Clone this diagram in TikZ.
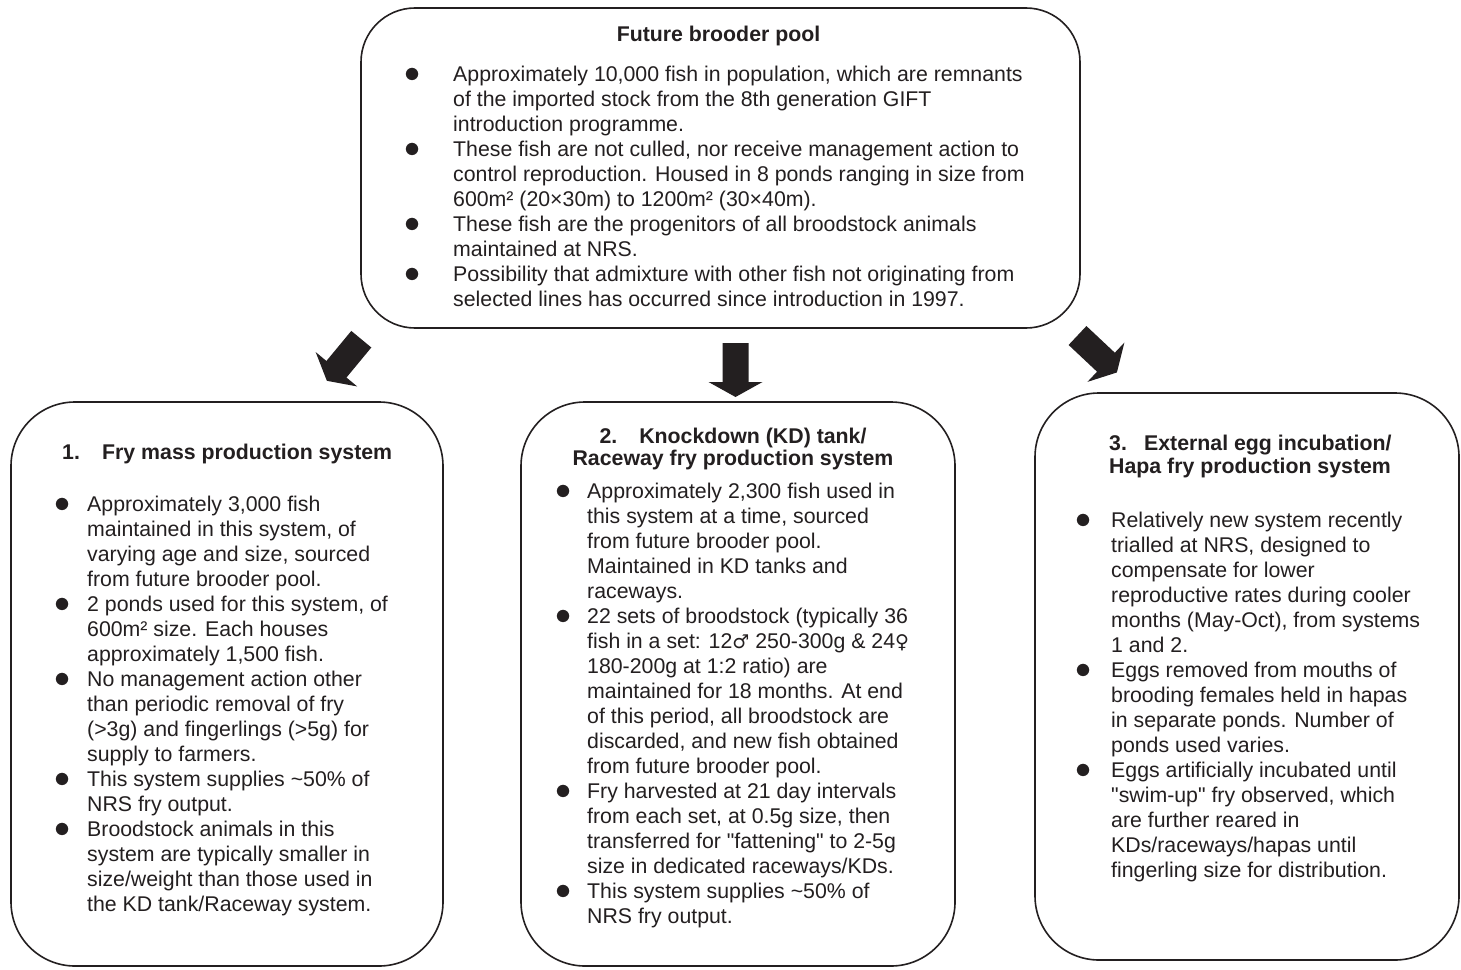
\documentclass[tikz,border=0pt]{standalone}
\usepackage{fontspec}
\setmainfont{Liberation Sans}
\newfontfamily\symfont{DejaVu Sans}
\usepackage{array}
\definecolor{ink}{HTML}{231F20}
\newcommand\mybul{\makebox[0pt]{\raisebox{-1.6pt}{\scalebox{1.55}{$\bullet$}}}}
\newcommand\qq{\textquotedbl}
\newcommand\male{{\symfont\fontsize{19}{25}\selectfont ♂}}
\newcommand\female{{\symfont\fontsize{19}{25}\selectfont ♀}}
\begin{document}
\begin{tikzpicture}[x=1pt,y=-1pt,
  box/.style={draw=ink, line width=1.6pt, inner sep=0pt},
  body/.style={anchor=base west, inner sep=0pt, text=ink, font=\fontsize{21.3}{25}\selectfont},
  ttl/.style={inner sep=0pt, text=ink, font=\fontsize{21.3}{22.4}\selectfont\bfseries},
  blockarrow/.pic={\fill[ink] (0,-13) -- (39,-13) -- (39,-27) -- (54,0) -- (39,27) -- (39,13) -- (0,13) -- cycle;}
]
\fill[white] (0,0) rectangle (1461,969);
\useasboundingbox (0,0) rectangle (1461,969);

% boxes
\node[box, rounded corners=54pt, minimum width=719pt, minimum height=320pt] (pool) at (720.5,168) {};
\node[box, rounded corners=64pt, minimum width=432pt, minimum height=564pt] (fry) at (227,684) {};
\node[box, rounded corners=64pt, minimum width=434pt, minimum height=564pt] (kd) at (738,684) {};
\node[box, rounded corners=64pt, minimum width=424pt, minimum height=567pt] (hapa) at (1247,676.5) {};

% arrows
\pic[rotate=-129.6] (arrL) at (361.3,339.2) {blockarrow};
\pic[rotate=-90] (arrM) at (735.5,343) {blockarrow};
\pic[rotate=-43.2] (arrR) at (1077.5,335.5) {blockarrow};

% top box
\node[ttl, anchor=base] (pooltitle) at (718.5,41.7) {Future brooder pool};
\node[body] (poolbody) at (412,81) {\begin{tabular}[t]{@{}p{41pt}@{}l@{}}
\mybul & Approximately 10,000 fish in population, which are remnants\\
 & of the imported stock from the 8th generation GIFT\\
 & introduction programme.\\
\mybul & These fish are not culled, nor receive management action to\\
 & control reproduction. Housed in 8 ponds ranging in size from\\
 & 600m² (20×30m) to 1200m² (30×40m).\\
\mybul & These fish are the progenitors of all broodstock animals\\
 & maintained at NRS.\\
\mybul & Possibility that admixture with other fish not originating from\\
 & selected lines has occurred since introduction in 1997.
\end{tabular}};

% left box
\node[ttl, anchor=base west] (frytitle) at (62,459) {1.\hspace{22.2pt}Fry mass production system};
\node[body] (frybody) at (62,511) {\begin{tabular}[t]{@{}p{25pt}@{}l@{}}
\mybul & Approximately 3,000 fish\\
 & maintained in this system, of\\
 & varying age and size, sourced\\
 & from future brooder pool.\\
\mybul & 2 ponds used for this system, of\\
 & 600m² size. Each houses\\
 & approximately 1,500 fish.\\
\mybul & No management action other\\
 & than periodic removal of fry\\
 & (>3g) and fingerlings (>5g) for\\
 & supply to farmers.\\
\mybul & This system supplies \textasciitilde50\% of\\
 & NRS fry output.\\
\mybul & Broodstock animals in this\\
 & system are typically smaller in\\
 & size/weight than those used in\\
 & the KD tank/Raceway system.
\end{tabular}};

% middle box
\node[ttl, anchor=base, align=center] (kdtitle) at (733,465.4) {2.\hspace{22pt}Knockdown (KD) tank/\\Raceway fry production system};
\node[body] (kdbody) at (563,498) {\begin{tabular}[t]{@{}p{24pt}@{}l@{}}
\mybul & Approximately 2,300 fish used in\\
 & this system at a time, sourced\\
 & from future brooder pool.\\
 & Maintained in KD tanks and\\
 & raceways.\\
\mybul & 22 sets of broodstock (typically 36\\
 & fish in a set: 12\male{} 250-300g \& 24\female\\
 & 180-200g at 1:2 ratio) are\\
 & maintained for 18 months. At end\\
 & of this period, all broodstock are\\
 & discarded, and new fish obtained\\
 & from future brooder pool.\\
\mybul & Fry harvested at 21 day intervals\\
 & from each set, at 0.5g size, then\\
 & transferred for \qq fattening\qq{} to 2-5g\\
 & size in dedicated raceways/KDs.\\
\mybul & This system supplies \textasciitilde50\% of\\
 & NRS fry output.
\end{tabular}};

% right box
\node[ttl, anchor=base west, align=left] (hapatitle) at (1109,473.1) {3.\hspace{17.2pt}External egg incubation/\\Hapa fry production system};
\node[body] (hapabody) at (1083,527) {\begin{tabular}[t]{@{}p{28pt}@{}l@{}}
\mybul & Relatively new system recently\\
 & trialled at NRS, designed to\\
 & compensate for lower\\
 & reproductive rates during cooler\\
 & months (May-Oct), from systems\\
 & 1 and 2.\\
\mybul & Eggs removed from mouths of\\
 & brooding females held in hapas\\
 & in separate ponds. Number of\\
 & ponds used varies.\\
\mybul & Eggs artificially incubated until\\
 & \qq swim-up\qq{} fry observed, which\\
 & are further reared in\\
 & KDs/raceways/hapas until\\
 & fingerling size for distribution.
\end{tabular}};
\end{tikzpicture}
\end{document}
